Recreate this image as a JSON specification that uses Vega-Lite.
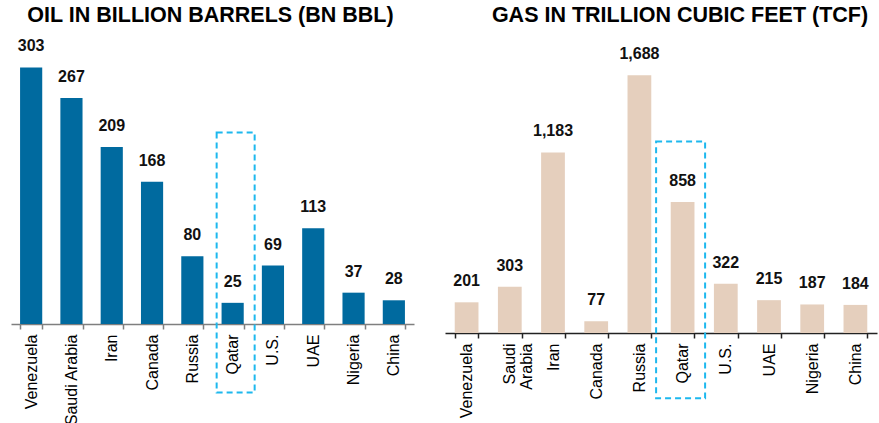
{
  "$schema": "https://vega.github.io/schema/vega-lite/v6.json",
  "padding": {"left": 3, "top": 4, "right": 3, "bottom": 0},
  "spacing": 31,
  "bounds": "flush",
  "datasets": {
    "oil": [
      {"country": "Venezuela", "value": 303},
      {"country": "Saudi Arabia", "value": 267},
      {"country": "Iran", "value": 209},
      {"country": "Canada", "value": 168},
      {"country": "Russia", "value": 80},
      {"country": "Qatar", "value": 25},
      {"country": "U.S.", "value": 69},
      {"country": "UAE", "value": 113},
      {"country": "Nigeria", "value": 37},
      {"country": "China", "value": 28}
    ],
    "gas": [
      {"country": "Venezuela", "value": 201},
      {"country": "Saudi Arabia", "value": 303},
      {"country": "Iran", "value": 1183},
      {"country": "Canada", "value": 77},
      {"country": "Russia", "value": 1688},
      {"country": "Qatar", "value": 858},
      {"country": "U.S.", "value": 322},
      {"country": "UAE", "value": 215},
      {"country": "Nigeria", "value": 187},
      {"country": "China", "value": 184}
    ],
    "oilbox": [{"country": "Qatar", "top": 226, "bottom": -81}],
    "gasbox": [{"country": "Qatar", "top": 1255, "bottom": -428}]
  },
  "hconcat": [
    {
      "width": 403,
      "height": 293,
      "title": {"text": "OIL IN BILLION BARRELS (BN BBL)", "font": "Liberation Sans", "fontSize": 21.5, "fontWeight": "bold", "color": "#000000", "offset": 5, "dx": -2},
      "layer": [
        {
          "data": {"name": "oil"},
          "mark": {"type": "bar", "color": "#006A9F"},
          "encoding": {
            "x": {
              "field": "country", "type": "nominal", "sort": null,
              "scale": {"domain": ["Venezuela", "Saudi Arabia", "Iran", "Canada", "Russia", "Qatar", "U.S.", "UAE", "Nigeria", "China"], "paddingInner": 0.45, "paddingOuter": 0.225},
              "axis": {"title": null, "labelAngle": -90, "labelAlign": "right", "labelBaseline": "middle", "labelFont": "Liberation Sans", "labelFontSize": 16, "labelColor": "#000000", "labelPadding": 5, "tickBand": "extent", "tickSize": 5, "tickColor": "#7f7f7f", "tickWidth": 1.5, "domainColor": "#7f7f7f", "domainWidth": 1.5, "labelOverlap": false}
            },
            "y": {"field": "value", "type": "quantitative", "scale": {"domain": [0, 346], "nice": false}, "axis": null}
          }
        },
        {
          "data": {"name": "oil"},
          "mark": {"type": "text", "baseline": "middle", "dy": -21, "font": "Liberation Sans", "fontSize": 16, "fontWeight": "bold", "color": "#111111"},
          "encoding": {
            "x": {"field": "country", "type": "nominal", "sort": null},
            "y": {"field": "value", "type": "quantitative"},
            "text": {"field": "value", "type": "quantitative", "format": ","}
          }
        },
        {
          "data": {"name": "oilbox"},
          "mark": {"type": "bar", "width": 38, "xOffset": 3, "fill": "transparent", "stroke": "#1DB8EE", "strokeWidth": 2, "strokeDash": [6, 4]},
          "encoding": {
            "x": {"field": "country", "type": "nominal", "sort": null},
            "y": {"field": "top", "type": "quantitative"},
            "y2": {"field": "bottom"}
          }
        }
      ]
    },
    {
      "width": 432,
      "height": 302,
      "title": {"text": "GAS IN TRILLION CUBIC FEET (TCF)", "font": "Liberation Sans", "fontSize": 21.5, "fontWeight": "bold", "color": "#000000", "offset": 5, "dx": 19},
      "layer": [
        {
          "data": {"name": "gas"},
          "mark": {"type": "bar", "color": "#E5CFBD"},
          "encoding": {
            "x": {
              "field": "country", "type": "nominal", "sort": null,
              "scale": {"domain": ["Venezuela", "Saudi Arabia", "Iran", "Canada", "Russia", "Qatar", "U.S.", "UAE", "Nigeria", "China"], "paddingInner": 0.45, "paddingOuter": 0.225},
              "axis": {"title": null, "labelAngle": -90, "labelAlign": "right", "labelBaseline": "middle", "labelFont": "Liberation Sans", "labelFontSize": 16, "labelColor": "#000000", "labelPadding": 5, "labelLineHeight": 17, "labelExpr": "datum.value == 'Saudi Arabia' ? ['Saudi', 'Arabia'] : datum.value", "tickBand": "extent", "tickSize": 5, "tickColor": "#222222", "tickWidth": 1.5, "domainColor": "#222222", "domainWidth": 1.5, "labelOverlap": false}
            },
            "y": {"field": "value", "type": "quantitative", "scale": {"domain": [0, 1978], "nice": false}, "axis": null}
          }
        },
        {
          "data": {"name": "gas"},
          "mark": {"type": "text", "baseline": "middle", "dy": -21, "font": "Liberation Sans", "fontSize": 16, "fontWeight": "bold", "color": "#111111"},
          "encoding": {
            "x": {"field": "country", "type": "nominal", "sort": null},
            "y": {"field": "value", "type": "quantitative"},
            "text": {"field": "value", "type": "quantitative", "format": ","}
          }
        },
        {
          "data": {"name": "gasbox"},
          "mark": {"type": "bar", "width": 49, "xOffset": -2, "fill": "transparent", "stroke": "#1DB8EE", "strokeWidth": 2, "strokeDash": [6, 4]},
          "encoding": {
            "x": {"field": "country", "type": "nominal", "sort": null},
            "y": {"field": "top", "type": "quantitative"},
            "y2": {"field": "bottom"}
          }
        }
      ]
    }
  ],
  "config": {
    "view": {"stroke": null},
    "background": "#ffffff"
  }
}
